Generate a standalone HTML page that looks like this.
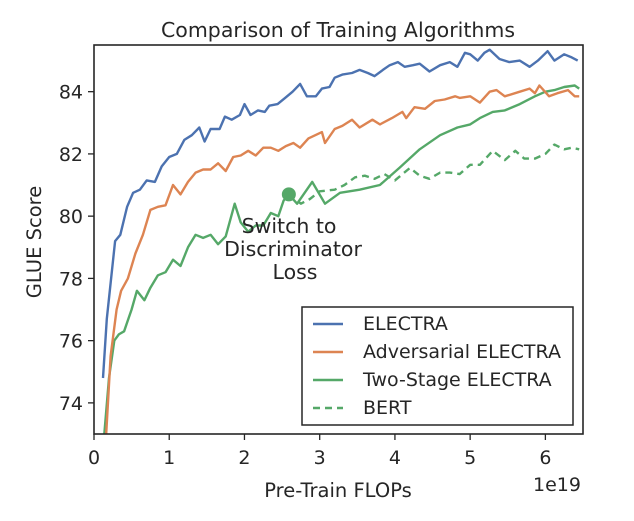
<!DOCTYPE html>
<html><head><meta charset="utf-8"><style>
body{margin:0;background:#fff;}
svg text{font-family:"DejaVu Sans","Liberation Sans",sans-serif;fill:#262626;}
</style></head><body>
<svg id="chart" width="634" height="516" xmlns="http://www.w3.org/2000/svg">
<rect width="634" height="516" fill="#fff"/>
<text x="338" y="37" font-size="20.5" text-anchor="middle">Comparison of Training Algorithms</text>
<text transform="translate(41,242) rotate(-90)" font-size="19.5" text-anchor="middle">GLUE Score</text>
<text x="338" y="497" font-size="19.5" text-anchor="middle">Pre-Train FLOPs</text>
<text x="581" y="491" font-size="19" text-anchor="end">1e19</text>
<g id="marks"></g>
<g id="axes"></g>
<text x="289" y="233" font-size="20.5" text-anchor="middle">Switch to</text>
<text x="293" y="256" font-size="20.5" text-anchor="middle">Discriminator</text>
<text x="295" y="279" font-size="20.5" text-anchor="middle">Loss</text>
<g>
<rect x="302" y="307" width="271" height="118" fill="#fff" stroke="#262626" stroke-width="1.5"/>
<line x1="313" y1="324" x2="343" y2="324" stroke="#4c72b0" stroke-width="2.5"/>
<text x="363" y="330" font-size="19">ELECTRA</text>
<line x1="313" y1="352" x2="343" y2="352" stroke="#dd8452" stroke-width="2.5"/>
<text x="363" y="358" font-size="19">Adversarial ELECTRA</text>
<line x1="313" y1="380" x2="343" y2="380" stroke="#55a868" stroke-width="2.5"/>
<text x="363" y="386" font-size="19">Two-Stage ELECTRA</text>
<line x1="313" y1="408" x2="343" y2="408" stroke="#55a868" stroke-width="2.5" stroke-dasharray="7,5"/>
<text x="363" y="414" font-size="19">BERT</text>
</g>
</svg>
<script>
const xTicks=[0,1,2,3,4,5,6];
const yTicks=[74,76,78,80,82,84];
const electraX=[0.12,0.17,0.28,0.35,0.44,0.52,0.61,0.70,0.81,0.9,1.0,1.1,1.2,1.3,1.4,1.47,1.55,1.67,1.74,1.83,1.94,2.0,2.08,2.18,2.27,2.33,2.44,2.54,2.64,2.74,2.83,2.95,3.03,3.13,3.2,3.3,3.43,3.53,3.64,3.73,3.84,3.93,4.04,4.13,4.24,4.33,4.46,4.6,4.73,4.83,4.93,5.0,5.1,5.19,5.26,5.39,5.52,5.66,5.79,5.9,6.03,6.12,6.25,6.35,6.43];
const electraY=[74.8,76.7,79.2,79.4,80.3,80.75,80.85,81.15,81.1,81.6,81.9,82.0,82.45,82.6,82.85,82.4,82.8,82.8,83.2,83.1,83.25,83.6,83.25,83.4,83.35,83.55,83.6,83.8,84.0,84.25,83.85,83.85,84.1,84.15,84.45,84.55,84.6,84.7,84.6,84.5,84.7,84.85,84.95,84.8,84.85,84.9,84.65,84.85,84.95,84.8,85.25,85.2,85.0,85.25,85.35,85.05,84.95,85.0,84.8,85.0,85.3,85.0,85.2,85.1,85.0];
const advX=[0.15,0.22,0.3,0.36,0.45,0.55,0.65,0.75,0.85,0.95,1.05,1.15,1.25,1.35,1.45,1.55,1.65,1.75,1.85,1.95,2.05,2.15,2.25,2.35,2.45,2.55,2.65,2.74,2.85,3.03,3.07,3.2,3.3,3.43,3.53,3.7,3.8,3.96,4.1,4.15,4.26,4.4,4.53,4.66,4.8,4.86,5.0,5.13,5.26,5.35,5.46,5.66,5.79,5.86,5.92,6.05,6.16,6.3,6.39,6.45];
const advY=[72.5,75.5,77.0,77.6,78.0,78.8,79.4,80.2,80.3,80.35,81.0,80.7,81.1,81.4,81.5,81.5,81.7,81.45,81.9,81.95,82.1,81.95,82.2,82.2,82.1,82.25,82.35,82.2,82.5,82.7,82.35,82.8,82.9,83.1,82.85,83.1,82.95,83.15,83.35,83.15,83.5,83.45,83.7,83.75,83.85,83.8,83.85,83.65,84.0,84.05,83.85,84.0,84.1,83.95,84.2,83.85,83.95,84.05,83.85,83.85];
const twoX=[0.12,0.2,0.27,0.33,0.4,0.5,0.57,0.67,0.75,0.85,0.95,1.05,1.15,1.25,1.35,1.45,1.55,1.65,1.75,1.87,1.95,2.05,2.15,2.25,2.35,2.45,2.52,2.59,2.7,2.9,3.07,3.27,3.53,3.8,4.06,4.33,4.6,4.83,5.0,5.13,5.3,5.46,5.66,5.86,6.0,6.12,6.25,6.39,6.45];
const twoY=[72.5,74.8,76.0,76.2,76.3,77.0,77.6,77.3,77.7,78.1,78.2,78.6,78.4,79.0,79.4,79.3,79.4,79.1,79.35,80.4,79.8,79.5,79.7,79.7,80.1,80.0,80.5,80.7,80.4,81.1,80.4,80.75,80.85,81.0,81.55,82.15,82.6,82.85,82.95,83.15,83.35,83.4,83.6,83.85,84.0,84.05,84.15,84.2,84.1];
const bertX=[2.59,2.75,2.87,3.0,3.2,3.33,3.47,3.6,3.73,3.86,4.0,4.2,4.33,4.46,4.6,4.73,4.86,5.0,5.13,5.3,5.46,5.6,5.72,5.86,6.0,6.12,6.25,6.35,6.45];
const bertY=[80.7,80.4,80.55,80.8,80.85,81.0,81.25,81.3,81.2,81.35,81.15,81.55,81.3,81.2,81.4,81.4,81.35,81.65,81.65,82.1,81.8,82.1,81.85,81.85,82.0,82.3,82.15,82.2,82.15];

const L=94,R=583,T=45,B=434,X0=0,X1=6.5,Y0=73.0,Y1=85.5;
const sx=v=>L+(v-X0)/(X1-X0)*(R-L);
const sy=v=>B-(v-Y0)/(Y1-Y0)*(B-T);
const NS="http://www.w3.org/2000/svg";
const marks=document.getElementById('marks'),axes=document.getElementById('axes');
const clip=document.createElementNS(NS,'clipPath');clip.setAttribute('id','pc');
const cr=document.createElementNS(NS,'rect');cr.setAttribute('x',L);cr.setAttribute('y',T);cr.setAttribute('width',R-L);cr.setAttribute('height',B-T);
clip.appendChild(cr);marks.appendChild(clip);
marks.setAttribute('clip-path','url(#pc)');
function line(xs,ys,color,name,dash){
  const p=document.createElementNS(NS,'path');
  p.setAttribute('d',xs.map((x,i)=>(i?'L':'M')+sx(x).toFixed(1)+','+sy(ys[i]).toFixed(1)).join(''));
  p.setAttribute('fill','none');p.setAttribute('stroke',color);p.setAttribute('stroke-width','2.4');
  p.setAttribute('stroke-linejoin','round');
  if(dash)p.setAttribute('stroke-dasharray',dash);
  
  
  marks.appendChild(p);
}
line(bertX,bertY,'#55a868','bert-line','7,5');
line(twoX,twoY,'#55a868','two-stage-electra-line');
line(advX,advY,'#dd8452','adversarial-electra-line');
line(electraX,electraY,'#4c72b0','electra-line');
const dot=document.createElementNS(NS,'circle');
dot.setAttribute('cx',sx(twoX[27]));dot.setAttribute('cy',sy(twoY[27]));dot.setAttribute('r','7');dot.setAttribute('fill','#55a868');


marks.appendChild(dot);
const frame=document.createElementNS(NS,'rect');
frame.setAttribute('x',L);frame.setAttribute('y',T);frame.setAttribute('width',R-L);frame.setAttribute('height',B-T);
frame.setAttribute('fill','none');frame.setAttribute('stroke','#262626');frame.setAttribute('stroke-width','1.6');


axes.appendChild(frame);
xTicks.forEach(t=>{
  const l=document.createElementNS(NS,'line');
  l.setAttribute('x1',sx(t));l.setAttribute('x2',sx(t));l.setAttribute('y1',B);l.setAttribute('y2',B+6);
  l.setAttribute('stroke','#262626');l.setAttribute('stroke-width','1.3');
  
  
  axes.appendChild(l);
  const tx=document.createElementNS(NS,'text');
  tx.setAttribute('x',sx(t));tx.setAttribute('y',B+30);tx.setAttribute('font-size','19');tx.setAttribute('text-anchor','middle');
  tx.textContent=t;
  
  
  axes.appendChild(tx);
});
yTicks.forEach(t=>{
  const l=document.createElementNS(NS,'line');
  l.setAttribute('x1',L-6);l.setAttribute('x2',L);l.setAttribute('y1',sy(t));l.setAttribute('y2',sy(t));
  l.setAttribute('stroke','#262626');l.setAttribute('stroke-width','1.3');
  
  
  axes.appendChild(l);
  const tx=document.createElementNS(NS,'text');
  tx.setAttribute('x',L-11);tx.setAttribute('y',sy(t)+7);tx.setAttribute('font-size','19');tx.setAttribute('text-anchor','end');
  tx.textContent=t;
  
  
  axes.appendChild(tx);
});
</script>
</body></html>
